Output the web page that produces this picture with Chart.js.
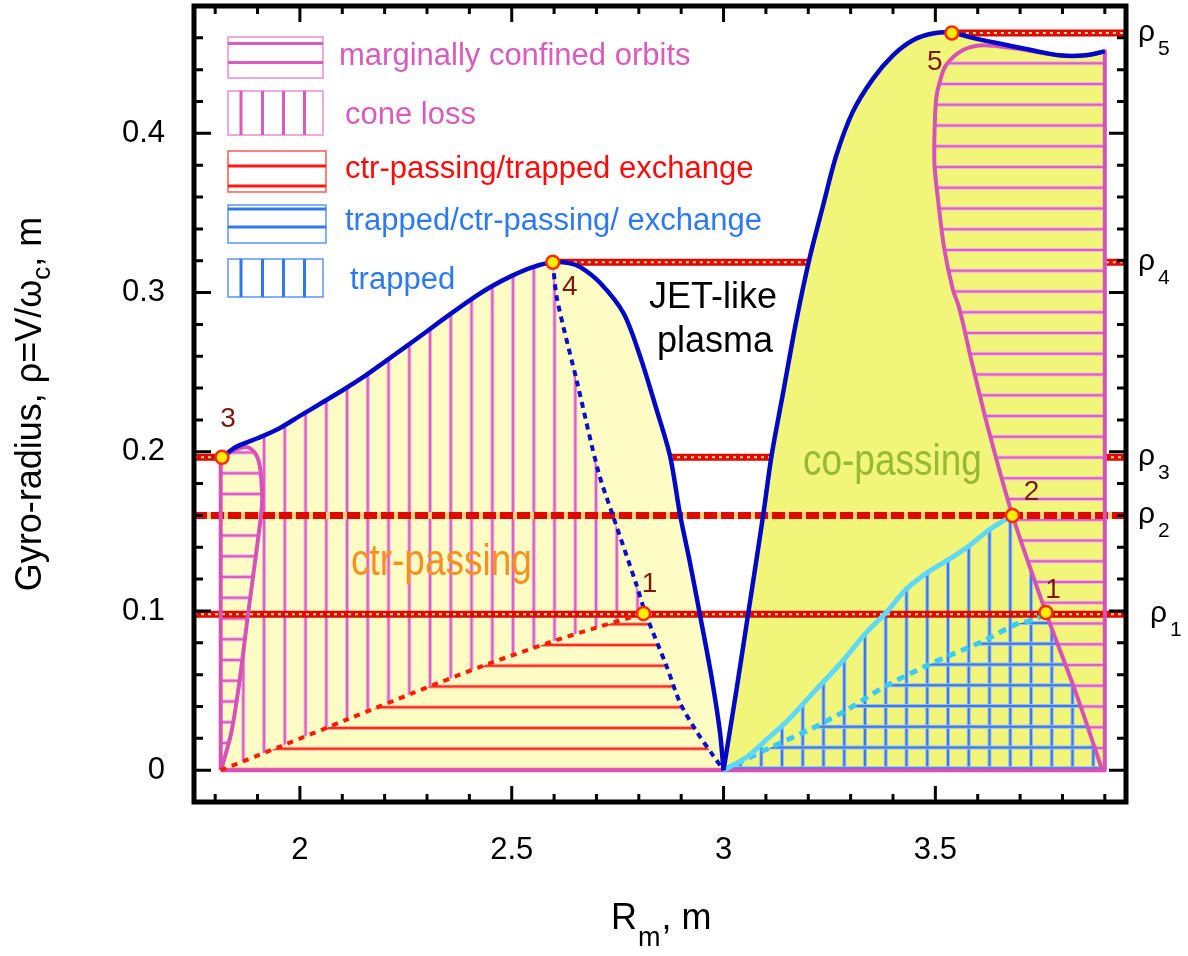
<!DOCTYPE html>
<html>
<head>
<meta charset="utf-8">
<script src="https://cdn.jsdelivr.net/npm/chart.js@4.4.1/dist/chart.umd.min.js"></script>
<style>
  html, body { margin: 0; padding: 0; background: #fff; }
  canvas { display: block; }
</style>
</head>
<body>
<canvas id="grafico" width="1188" height="956"></canvas>
<script>
// curvas, pontos [R_m, rho]
const blueLeftLobe = [
  [1.816, 0.1965], [1.849, 0.203], [1.90, 0.2085], [1.95, 0.2145], [2.0, 0.2225], [2.05, 0.2305],
  [2.10, 0.2385], [2.15, 0.247], [2.20, 0.2565], [2.25, 0.266], [2.30, 0.2757], [2.35, 0.2855],
  [2.40, 0.295], [2.45, 0.3035], [2.50, 0.3105], [2.55, 0.316], [2.597, 0.319], [2.635, 0.3185],
  [2.662, 0.316], [2.709, 0.306], [2.764, 0.287], [2.803, 0.260], [2.842, 0.2264], [2.874, 0.197],
  [2.897, 0.161], [2.921, 0.130], [2.944, 0.098], [2.972, 0.058], [2.9915, 0.024], [3.0, 0.0]
];
const blueRightLobe = [
  [3.0, 0.0], [3.031, 0.0512], [3.058, 0.098], [3.0935, 0.160], [3.113, 0.197], [3.141, 0.2376],
  [3.172, 0.2826], [3.2035, 0.322], [3.235, 0.3547], [3.266, 0.386], [3.305, 0.4135], [3.353, 0.4344],
  [3.400, 0.449], [3.447, 0.4585], [3.494, 0.4627], [3.537, 0.4633], [3.588, 0.460], [3.651, 0.4564],
  [3.729, 0.4522], [3.792, 0.449], [3.855, 0.449], [3.9, 0.4515]
];
const pinkLeftLobe = [
  [1.816, 0.1965], [1.85, 0.2015], [1.877, 0.2028], [1.897, 0.198], [1.906, 0.19], [1.910, 0.178],
  [1.911, 0.170], [1.908, 0.1597], [1.897, 0.1367], [1.877, 0.0969], [1.857, 0.055], [1.838, 0.0235],
  [1.814, 0.0]
];
const pinkRightBoundary = [
  [3.894, 0.0], [3.8316, 0.0487], [3.761, 0.099], [3.682, 0.160], [3.627, 0.2122], [3.588, 0.254],
  [3.557, 0.2897], [3.541, 0.3023], [3.521, 0.3275], [3.506, 0.359], [3.498, 0.380], [3.498, 0.4009],
  [3.502, 0.4218], [3.51, 0.432], [3.525, 0.4428], [3.5645, 0.4522], [3.6116, 0.4554], [3.690, 0.4533],
  [3.792, 0.449], [3.855, 0.449], [3.9, 0.4515]
];
const redDottedLine = [
  [1.813, 0.0], [1.955, 0.015], [2.112, 0.0319], [2.269, 0.0487], [2.442, 0.0665], [2.599, 0.0811],
  [2.701, 0.0896], [2.811, 0.0984]
];
const blueDottedLine = [
  [2.597, 0.319], [2.607, 0.296], [2.654, 0.244], [2.705, 0.187], [2.74, 0.159], [2.795, 0.116],
  [2.815, 0.099], [2.866, 0.065], [2.898, 0.042], [2.937, 0.024], [2.976, 0.009], [3.0, 0.0]
];
const cyanSolidLine = [
  [3.0, 0.0], [3.057, 0.0086], [3.104, 0.0198], [3.151, 0.031], [3.213, 0.049], [3.276, 0.067],
  [3.337, 0.0864], [3.384, 0.099], [3.431, 0.1136], [3.486, 0.125], [3.533, 0.1325], [3.580, 0.1409],
  [3.627, 0.151], [3.682, 0.160]
];
const cyanDottedLine = [
  [3.0, 0.0], [3.101, 0.013], [3.211, 0.0265], [3.29, 0.0377], [3.376, 0.0518], [3.486, 0.0665],
  [3.612, 0.081], [3.690, 0.0916], [3.737, 0.0948], [3.761, 0.099]
];
const leftEdge = 1.813;
const rightEdge = 3.9;

// niveis rho
const rhoLevels = [0.098, 0.16, 0.1965, 0.319, 0.4631];
const rhoNames = ['1', '2', '3', '4', '5'];
const rhoStart = [1.75, 1.75, 1.75, 2.597, 3.539];
const rhoEnd = 3.95;

// pontos marcados
const markedPoints = [[1.816, 0.1965], [2.597, 0.319], [2.811, 0.0984], [3.539, 0.4631], [3.682, 0.160], [3.761, 0.099]];
const markedLabels = ['3', '4', '1', '5', '2', '1'];

// eixos
const xTickLabels = [2, 2.5, 3, 3.5];
const yTickLabels = [0, 0.1, 0.2, 0.3, 0.4];
const xMinorTicks = [1.8, 1.9, 2.1, 2.2, 2.3, 2.4, 2.6, 2.7, 2.8, 2.9, 3.1, 3.2, 3.3, 3.4, 3.6, 3.7, 3.8, 3.9];
const yMinorTicks = [0.02, 0.04, 0.06, 0.08, 0.12, 0.14, 0.16, 0.18, 0.22, 0.24, 0.26, 0.28, 0.32, 0.34, 0.36, 0.38, 0.42, 0.44, 0.46];

const legendLabels = ['marginally confined orbits', 'cone loss', 'ctr-passing/trapped exchange', 'trapped/ctr-passing/ exchange', 'trapped'];

const FONT = "'Liberation Sans', Arial, sans-serif";

const toXY = pts => pts.map(p => ({ x: p[0], y: p[1] }));

// hachuras
const hatch = (dir, core, halo, phase, bg) => {
  const size = 83; // 4 periodos de 20.75 px
  const c = document.createElement('canvas');
  c.width = size; c.height = size;
  const g = c.getContext('2d');
  if (bg) { g.fillStyle = bg; g.fillRect(0, 0, size, size); }
  for (let k = -1; k <= 4; k++) {
    const p = phase + k * 20.75;
    [[halo, 4], [core, 2]].forEach(([col, w]) => {
      g.strokeStyle = col; g.lineWidth = w;
      g.beginPath();
      if (dir === 'h') { g.moveTo(0, p); g.lineTo(size, p); } else { g.moveTo(p, 0); g.lineTo(p, size); }
      g.stroke();
    });
  }
  return g.createPattern(c, 'repeat');
};

const PALE = '#fefcc5';
const BRIGHT = '#f1f67b';
const PINK = '#d752b8';

// poligonos das regioes
const leftRegion = [[leftEdge, 0], ...blueLeftLobe];
const rightRegion = [...blueRightLobe, [rightEdge, 0]];
const coneLoss = [[leftEdge, 0], [leftEdge, 0.1965], ...blueLeftLobe.filter(p => p[0] <= 2.6),
  ...blueDottedLine.filter(p => p[1] >= 0.099 && p[1] < 0.319), ...redDottedLine.slice().reverse()];
const exchangeLeft = [...redDottedLine, ...blueDottedLine.filter(p => p[1] < 0.099)];
const lobeLeft = [[leftEdge, 0], ...pinkLeftLobe];
const marginRight = [...pinkRightBoundary, [rightEdge, 0]];
const trappedRegion = [...cyanSolidLine, ...pinkRightBoundary.filter(p => p[1] < 0.16).reverse()];
const exchangeRight = [...cyanDottedLine, ...pinkRightBoundary.filter(p => p[1] < 0.099).reverse()];

const fillSet = (pts, color) => ({
  data: toXY(pts), fill: 'shape', backgroundColor: color, borderWidth: 0, pointRadius: 0, tension: 0
});
const lineSet = (pts, color, width, dash, tension) => ({
  data: toXY(pts), fill: false, borderColor: color, borderWidth: width, borderDash: dash || [],
  pointRadius: 0, borderJoinStyle: 'round', tension: tension || 0
});
const rhoSets = i => {
  const pts = [[rhoStart[i], rhoLevels[i]], [rhoEnd, rhoLevels[i]]];
  if (i === 1) return [lineSet(pts, '#f4d27e', 7), lineSet(pts, '#dc0a00', 7, [13, 4])];
  return [lineSet(pts, '#dc0a00', 7), lineSet(pts, '#f7dc8c', 2, [3, 4])];
};

// ordem de desenho: de baixo para cima
const layers = [
  ...rhoSets(2), ...rhoSets(3), ...rhoSets(4),
  fillSet(leftRegion, PALE),
  fillSet(rightRegion, BRIGHT),
  fillSet(coneLoss, hatch('v', '#dc5fc0', '#efb3e2', 15.05)),
  fillSet(exchangeLeft, hatch('h', '#ff2a1a', '#ffa898', 1.75)),
  fillSet(lobeLeft, hatch('h', '#dc5fc0', '#efb3e2', 16.8, PALE)),
  fillSet(marginRight, hatch('h', '#dc5fc0', '#efb3e2', 1.05, BRIGHT)),
  fillSet(trappedRegion, hatch('v', '#3a78ee', '#97bdf3', 14.25)),
  fillSet(exchangeRight, hatch('h', '#3a78ee', '#97bdf3', 0.5)),
  ...rhoSets(0), ...rhoSets(1),
  lineSet([[leftEdge, 0], [rightEdge, 0]], PINK, 4),
  lineSet([[leftEdge, 0], [leftEdge, 0.1965]], PINK, 4),
  lineSet(pinkLeftLobe, PINK, 4, null, 0.3),
  lineSet(pinkRightBoundary, PINK, 4, null, 0.3),
  lineSet([[rightEdge, 0.4515], [rightEdge, 0]], PINK, 4),
  lineSet(redDottedLine, '#ff1a00', 4, [6, 6], 0.3),
  lineSet(cyanDottedLine, '#3ccaf7', 5, [8, 6], 0.3),
  lineSet(cyanSolidLine, '#5fd8fb', 5, null, 0.3),
  lineSet(blueDottedLine, '#0a10c8', 4, [6, 5], 0.3),
  lineSet(blueLeftLobe, '#0008c8', 4.5, null, 0.3),
  lineSet(blueRightLobe, '#0008c8', 4.5, null, 0.3),
  {
    data: toXY(markedPoints), showLine: false, pointRadius: 6.5, pointBorderWidth: 2.5,
    pointBackgroundColor: '#ffee00', pointBorderColor: '#ff2a00'
  }
];
layers.forEach((d, i) => { d.order = layers.length - i; });
const pointsIndex = layers.length - 1;

// texto estreitado na horizontal
const narrowText = (ctx, text, x, y, size, squeeze) => {
  ctx.save();
  ctx.font = `${size}px ${FONT}`;
  ctx.translate(x, y);
  ctx.scale(squeeze, 1);
  ctx.fillText(text, 0, 0);
  ctx.restore();
};

const desenhoExtra = {
  id: 'desenhoExtra',
  afterDraw(chart) {
    const { ctx, chartArea: area, scales: { x, y } } = chart;
    ctx.save();

    // marcas dos eixos (para dentro)
    ctx.strokeStyle = '#000';
    ctx.lineWidth = 3;
    ctx.beginPath();
    const tickX = (v, len) => {
      const px = x.getPixelForValue(v);
      ctx.moveTo(px, area.bottom); ctx.lineTo(px, area.bottom - len);
      ctx.moveTo(px, area.top); ctx.lineTo(px, area.top + len);
    };
    const tickY = (v, len) => {
      const py = y.getPixelForValue(v);
      ctx.moveTo(area.left, py); ctx.lineTo(area.left + len, py);
      ctx.moveTo(area.right, py); ctx.lineTo(area.right - len, py);
    };
    xTickLabels.forEach(v => tickX(v, 16));
    xMinorTicks.forEach(v => tickX(v, 8));
    yTickLabels.forEach(v => tickY(v, 17));
    yMinorTicks.forEach(v => tickY(v, 9));
    ctx.stroke();
    ctx.lineWidth = 5;
    ctx.strokeRect(area.left, area.top, area.right - area.left, area.bottom - area.top);

    // rotulos dos pontos
    const meta = chart.getDatasetMeta(pointsIndex);
    const offsets = [[6, -38], [17, 25], [6, -29], [-17, 29], [19, -23], [7, -22]];
    ctx.fillStyle = '#7a1a10';
    ctx.font = `28px ${FONT}`;
    ctx.textAlign = 'center';
    ctx.textBaseline = 'middle';
    meta.data.forEach((el, i) => {
      ctx.fillText(markedLabels[i], el.x + offsets[i][0], el.y + offsets[i][1]);
    });

    // textos das regioes
    ctx.fillStyle = '#000';
    ctx.font = `36px ${FONT}`;
    ctx.textBaseline = 'alphabetic';
    ctx.fillText('JET-like', 713, 308);
    ctx.fillText('plasma', 715, 352);
    ctx.textAlign = 'left';
    ctx.fillStyle = '#f8901e';
    narrowText(ctx, 'ctr-passing', 351, 575, 44, 0.84);
    ctx.fillStyle = '#97b933';
    narrowText(ctx, 'co-passing', 803, 475, 44, 0.84);

    // legenda
    const boxes = [
      { y0: 37, y1: 78, x1: 323, edge: '#e98fd3', core: '#d85cbc', kind: 'h', at: [43.5, 62.5] },
      { y0: 91, y1: 135, x1: 323, edge: '#e98fd3', core: '#d85cbc', kind: 'v', at: [241, 262.5, 283.5, 304.5] },
      { y0: 151, y1: 192, x1: 326, edge: '#ff5a50', core: '#ff1a10', kind: 'h', at: [166, 186] },
      { y0: 205, y1: 243, x1: 326, edge: '#5a95f2', core: '#3078f0', kind: 'h', at: [209, 227] },
      { y0: 259, y1: 297, x1: 323, edge: '#5a95f2', core: '#3078f0', kind: 'v', at: [241, 262.5, 283.5, 304.5] }
    ];
    const textColors = ['#d95bbd', '#d95bbd', '#ff0a0a', '#2c79f2', '#2c79f2'];
    const textX = [339, 345, 345, 345, 350];
    const textBase = [65, 124, 178, 230, 289];
    boxes.forEach((b, i) => {
      ctx.strokeStyle = b.edge;
      ctx.lineWidth = 1.5;
      ctx.strokeRect(228, b.y0, b.x1 - 228, b.y1 - b.y0);
      ctx.strokeStyle = b.core;
      ctx.lineWidth = 3;
      ctx.beginPath();
      b.at.forEach(p => {
        if (b.kind === 'h') { ctx.moveTo(228, p); ctx.lineTo(b.x1, p); }
        else { ctx.moveTo(p, b.y0); ctx.lineTo(p, b.y1); }
      });
      ctx.stroke();
      ctx.fillStyle = textColors[i];
      ctx.font = `31px ${FONT}`;
      ctx.fillText(legendLabels[i], textX[i], textBase[i]);
    });

    // rotulos rho a direita
    ctx.fillStyle = '#000';
    rhoLevels.forEach((v, i) => {
      const py = y.getPixelForValue(v);
      const px = i === 0 ? 1150 : 1138;
      ctx.font = `30px ${FONT}`;
      ctx.fillText('\u03c1', px, py + 8);
      ctx.font = `21px ${FONT}`;
      ctx.fillText(rhoNames[i], px + 20, py + 22);
    });

    // titulo do eixo x com subscrito
    ctx.font = `36px ${FONT}`;
    ctx.fillText('R', 611, 929);
    const wR = ctx.measureText('R').width;
    ctx.font = `27px ${FONT}`;
    ctx.fillText('m', 611 + wR + 1, 946);
    const wm = ctx.measureText('m').width;
    ctx.font = `36px ${FONT}`;
    ctx.fillText(', m', 611 + wR + wm + 2, 929);

    // titulo do eixo y (rotacionado)
    ctx.translate(41, 404);
    ctx.rotate(-Math.PI / 2);
    const parts = [['Gyro-radius, \u03c1=V/\u03c9', 36, 0], ['c', 26, 9], [', m', 36, 0]];
    let total = 0;
    parts.forEach(p => { ctx.font = `${p[1]}px ${FONT}`; total += ctx.measureText(p[0]).width; });
    let cx = -total / 2;
    parts.forEach(p => {
      ctx.font = `${p[1]}px ${FONT}`;
      ctx.fillText(p[0], cx, p[2]);
      cx += ctx.measureText(p[0]).width;
    });
    ctx.restore();
  }
};

new Chart(document.getElementById('grafico'), {
  type: 'line',
  data: { datasets: layers },
  options: {
    responsive: false,
    devicePixelRatio: 1,
    animation: false,
    events: [],
    layout: { autoPadding: false, padding: { left: 0, top: 6, right: 62, bottom: 0 } },
    plugins: { legend: { display: false }, tooltip: { enabled: false } },
    scales: {
      x: {
        type: 'linear', min: 1.75, max: 3.95,
        afterBuildTicks: s => { s.ticks = xTickLabels.map(v => ({ value: v })); },
        afterFit: s => { s.height = 154; s.paddingLeft = 0; s.paddingRight = 0; },
        grid: { display: false, drawTicks: false },
        border: { display: false },
        ticks: { padding: 30, color: '#000', font: { size: 31, family: FONT }, maxRotation: 0, callback: v => String(v) }
      },
      y: {
        type: 'linear', min: -0.02, max: 0.48,
        afterBuildTicks: s => { s.ticks = yTickLabels.map(v => ({ value: v })); },
        afterFit: s => { s.width = 194; s.paddingTop = 0; s.paddingBottom = 0; },
        grid: { display: false, drawTicks: false },
        border: { display: false },
        ticks: { padding: 29, color: '#000', font: { size: 31, family: FONT }, callback: v => String(v) }
      }
    }
  },
  plugins: [desenhoExtra]
});
</script>
</body>
</html>
